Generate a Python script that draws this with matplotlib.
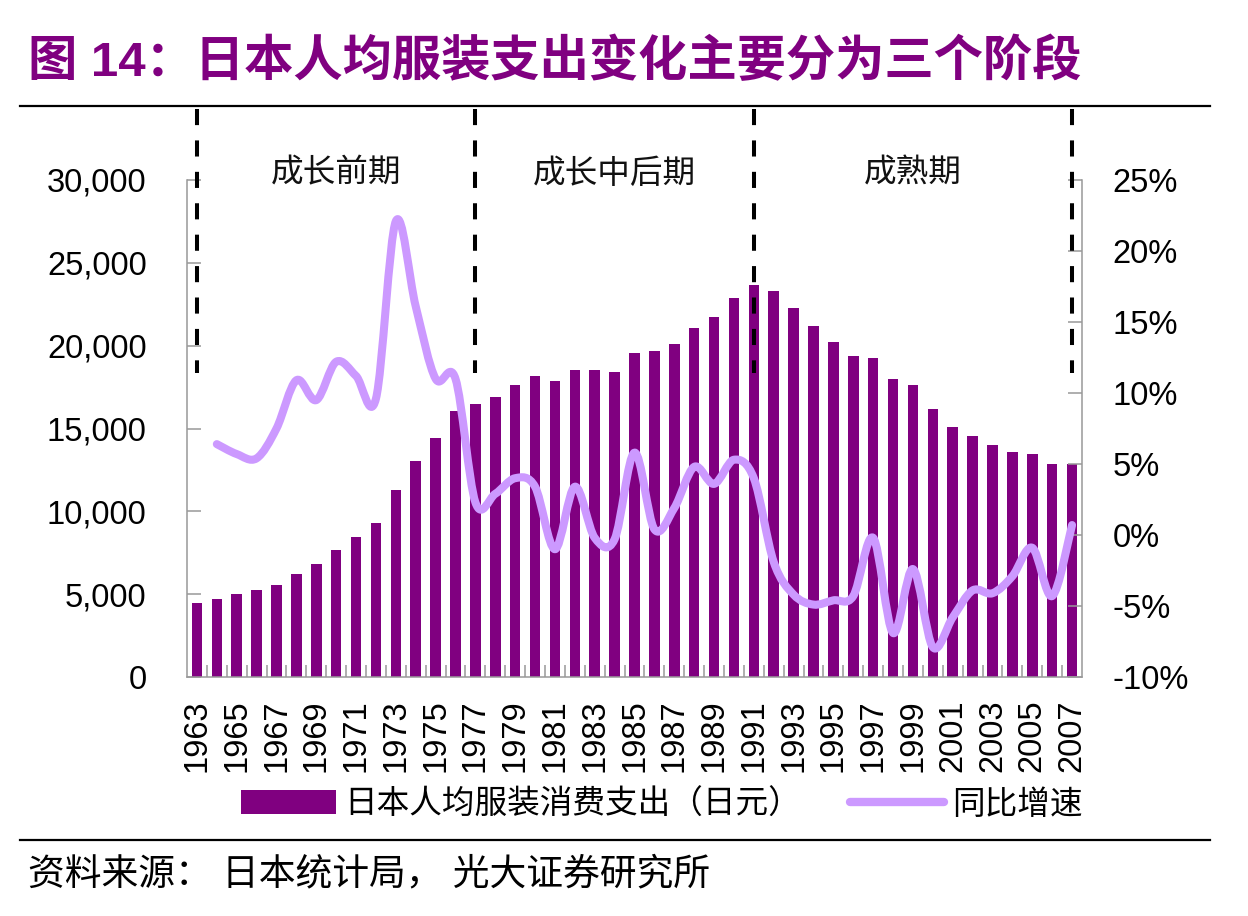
import numpy as np
import matplotlib
matplotlib.use("Agg")
import matplotlib.pyplot as plt
import matplotlib.transforms as mtransforms
from matplotlib.path import Path
from matplotlib.patches import PathPatch, Patch
from matplotlib.lines import Line2D
from matplotlib.ticker import FuncFormatter, MultipleLocator

plt.rcParams['font.family'] = ['Liberation Sans', 'Noto Sans CJK SC']

# per-capita clothing spending in Japan (yen)
years = list(range(1963, 2008))
spend = [4440, 4720, 5020, 5280, 5560, 6240, 6820, 7660, 8460, 9300,
         11260, 13060, 14440, 16080, 16500, 16900, 17600, 18160, 17860, 18560,
         18560, 18440, 19540, 19660, 20080, 21060, 21760, 22860, 23680, 23300,
         22300, 21200, 20240, 19400, 19280, 18000, 17600, 16200, 15100, 14540,
         14000, 13560, 13440, 12880, 12880]

# yoy growth (%)
growth_years = list(range(1964, 2008))
growth = [6.4, 5.7, 5.4, 7.5, 10.9, 9.5, 12.2, 11.2, 9.6, 22.1,
          16.1, 11.0, 11.0, 2.3, 2.9, 4.0, 3.4, -1.0, 3.4, -0.2,
          -0.3, 5.8, 0.4, 1.9, 4.8, 3.6, 5.3, 4.0, -1.9, -4.2,
          -4.9, -4.6, -4.3, -0.2, -6.9, -2.4, -7.9, -5.8, -3.9, -4.1,
          -2.9, -0.9, -4.3, 0.7]

phase_names = ['成长前期', '成长中后期', '成熟期']
phase_bounds = [1963, 1977, 1991, 2007]

title = '图 14：日本人均服装支出变化主要分为三个阶段'
source = '资料来源： 日本统计局， 光大证券研究所'
bar_label = '日本人均服装消费支出（日元）'
line_label = '同比增速'

PURPLE = '#800080'
LILAC = '#CC99FF'
GRAY = '#999999'
FS = 23.5


def smooth_path(xs, ys):
    # catmull-rom -> bezier, same look as excel "smoothed line"
    pts = np.column_stack([xs, ys]).astype(float)
    n = len(pts)
    verts = [pts[0]]
    codes = [Path.MOVETO]
    for i in range(n - 1):
        p0 = pts[i - 1] if i > 0 else pts[i]
        p1 = pts[i]
        p2 = pts[i + 1]
        p3 = pts[i + 2] if i + 2 < n else pts[i + 1]
        verts += [p1 + (p2 - p0) / 6, p2 - (p3 - p1) / 6, p2]
        codes += [Path.CURVE4] * 3
    return Path(verts, codes)


W, H = 1248, 916
fig = plt.figure(figsize=(W / 100, H / 100), dpi=100)
ax = fig.add_axes([187 / W, 1 - 677 / H, (1082 - 187) / W, (677 - 180) / H])
ax2 = ax.twinx()

ax.bar(years, spend, width=0.53, color=PURPLE, zorder=2)
ax.set_xlim(years[0] - 0.5, years[-1] + 0.5)
ax.set_ylim(0, 30000)
ax.yaxis.set_major_locator(MultipleLocator(5000))
ax.yaxis.set_major_formatter(FuncFormatter(lambda v, p: f'{v:,.0f}'))

ax2.add_patch(PathPatch(smooth_path(growth_years, growth), fill=False,
                        edgecolor=LILAC, lw=5.8, capstyle='round', joinstyle='round', zorder=3))
ax2.set_ylim(-10, 25)
ax2.yaxis.set_major_locator(MultipleLocator(5))
ax2.yaxis.set_major_formatter(FuncFormatter(lambda v, p: f'{v:.0f}%'))

ax.set_xticks(years[::2])
ax.set_xticks([y + 0.5 for y in years[:-1]], minor=True)
ax.tick_params(axis='x', which='major', length=0, pad=16, labelrotation=90, labelsize=FS)
ax.tick_params(axis='x', which='minor', direction='in', length=9, color=GRAY, width=1.1)
ax.tick_params(axis='y', direction='in', length=10, color=GRAY, width=1.1, pad=29, labelsize=FS)
ax2.tick_params(axis='y', direction='in', length=10, color=GRAY, width=1.1, pad=22, labelsize=FS)

for a in (ax, ax2):
    a.spines['top'].set_visible(False)
    for s in a.spines.values():
        s.set_color(GRAY)
        s.set_linewidth(1.1)
ax.spines['right'].set_visible(False)
ax2.spines['left'].set_visible(False)
ax2.spines['bottom'].set_visible(False)

# stage separators and names
trans = mtransforms.blended_transform_factory(ax2.transData, fig.transFigure)
for yr in phase_bounds:
    ax2.plot([yr, yr], [1 - 109 / H, 1 - 373 / H], transform=trans, color='black',
             lw=2.9, ls=(0, (4, 3.8)), dash_capstyle='butt', clip_on=False, zorder=5)
for i, name in enumerate(phase_names):
    mid = (phase_bounds[i] + phase_bounds[i + 1]) / 2
    ax2.text(mid, 1 - 174 / H, name, transform=trans, ha='center', va='center',
             fontsize=FS, color='#111111')

# header / footer
fig.text(28 / W, 1 - 62 / H, title, fontsize=35.5, fontweight='bold', color=PURPLE,
         ha='left', va='center')
fig.add_artist(Line2D([20 / W, 1210 / W], [1 - 106 / H] * 2, color='black', lw=1.6))
fig.add_artist(Line2D([20 / W, 1210 / W], [1 - 840 / H] * 2, color='black', lw=1.6))
fig.text(28 / W, 1 - 875 / H, source, fontsize=26.5, color='black', ha='left', va='center')

handles = [Patch(facecolor=PURPLE), Line2D([], [], color=LILAC, lw=6, solid_capstyle='round')]
fig.legend(handles, [bar_label, line_label], loc='center',
           bbox_to_anchor=(662 / W, 1 - 805 / H), ncol=2, frameon=False, fontsize=FS,
           handlelength=2.9, handletextpad=0.25, columnspacing=1.5, handleheight=0.75)

fig.savefig('out.png', dpi=100)
